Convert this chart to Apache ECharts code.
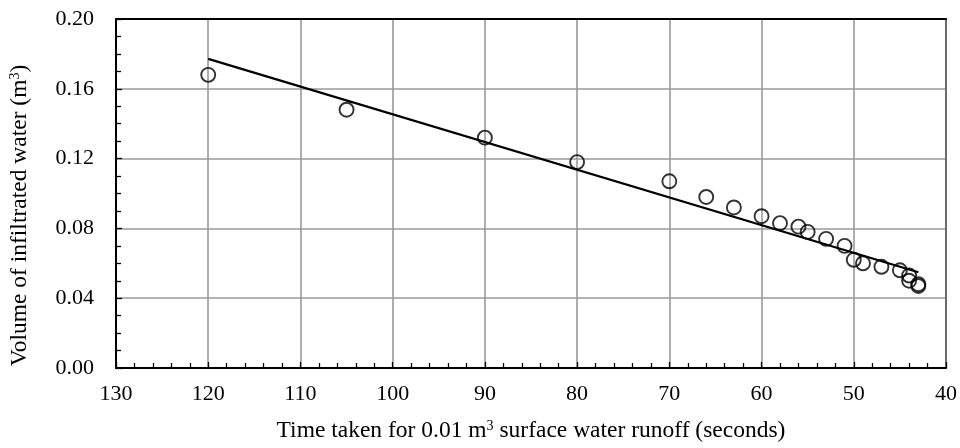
<!DOCTYPE html>
<html>
<head>
<meta charset="utf-8">
<script src="https://cdn.jsdelivr.net/npm/echarts@6/dist/echarts.min.js"></script>
<style>html,body{margin:0;padding:0;background:#fff}#c{width:960px;height:448px}</style>
</head>
<body>
<div id="c"></div>
<script>
// Data
const timeSeconds = [120, 105, 90, 80, 70, 66, 63, 60, 58, 56, 55, 53, 51, 50, 49, 47, 45, 44, 44, 43, 43];
const infiltratedVolume = [0.168, 0.148, 0.132, 0.118, 0.107, 0.098, 0.092, 0.087, 0.083, 0.081, 0.078, 0.074, 0.070, 0.062, 0.060, 0.058, 0.056, 0.053, 0.050, 0.048, 0.047];
const xTicks = [130, 120, 110, 100, 90, 80, 70, 60, 50, 40];
const yTicks = [0.00, 0.04, 0.08, 0.12, 0.16, 0.20];

// Linear trendline (least squares) from the data
const n = timeSeconds.length;
const mx = timeSeconds.reduce((a, b) => a + b, 0) / n;
const my = infiltratedVolume.reduce((a, b) => a + b, 0) / n;
let sxy = 0, sxx = 0;
for (let i = 0; i < n; i++) {
  sxy += (timeSeconds[i] - mx) * (infiltratedVolume[i] - my);
  sxx += (timeSeconds[i] - mx) * (timeSeconds[i] - mx);
}
const slope = sxy / sxx;
const intercept = my - slope * mx;
const xMin = Math.min(...timeSeconds), xMax = Math.max(...timeSeconds);
const trend = [[xMax, intercept + slope * xMax], [xMin, intercept + slope * xMin]];

const FONT = "'Liberation Serif', 'Times New Roman', serif";
const TICK = 22, TITLE = 23.5;
const rich = {
  n: { fontFamily: FONT, fontSize: TITLE, color: '#000' },
  s: { fontFamily: FONT, fontSize: 14, color: '#000', verticalAlign: 'top', padding: [0, 0, 9, 0] }
};
const chart = echarts.init(document.getElementById('c'));
chart.setOption({
  animation: false,
  textStyle: { fontFamily: FONT, color: '#000' },
  grid: { left: 116, right: 14, top: 19, bottom: 76, containLabel: false },
  xAxis: [{
    type: 'value', inverse: true,
    min: xTicks[xTicks.length - 1], max: xTicks[0], interval: 10,
    name: '{n|Time taken for 0.01 m}{s|3}{n| surface water runoff (seconds)}',
    nameLocation: 'middle', nameGap: 51,
    nameTextStyle: { rich: rich },
    axisLine: { show: true, lineStyle: { color: '#000', width: 2 } },
    axisTick: { show: true, inside: true, length: 6, lineStyle: { color: '#000', width: 1.3 } },
    minorTick: { show: true, splitNumber: 5, length: 5, lineStyle: { color: '#000', width: 1.3 } },
    axisLabel: { fontFamily: FONT, fontSize: TICK, color: '#000', margin: 15 },
    splitLine: { show: true, lineStyle: { color: '#9a9a9a', width: 1.6 } }
  }, {
    type: 'value', position: 'top', inverse: true,
    min: xTicks[xTicks.length - 1], max: xTicks[0],
    axisLine: { show: true, onZero: false, lineStyle: { color: '#000', width: 2 } },
    axisTick: { show: false }, axisLabel: { show: false }, splitLine: { show: false }
  }],
  yAxis: [{
    type: 'value', min: yTicks[0], max: yTicks[yTicks.length - 1], interval: 0.04,
    name: '{n|Volume of infiltrated water (m}{s|3}{n|)}',
    nameLocation: 'middle', nameGap: 84, nameRotate: 90,
    nameTextStyle: { rich: rich, padding: [0, 44, 0, 0] },
    axisLine: { show: true, lineStyle: { color: '#000', width: 2 } },
    axisTick: { show: true, inside: true, length: 6, lineStyle: { color: '#000', width: 1.3 } },
    minorTick: { show: true, splitNumber: 4, length: 5, lineStyle: { color: '#000', width: 1.3 } },
    axisLabel: { fontFamily: FONT, fontSize: TICK, color: '#000', margin: 22, formatter: v => v.toFixed(2) },
    splitLine: { show: true, lineStyle: { color: '#9a9a9a', width: 1.6 } }
  }, {
    type: 'value', position: 'right', min: yTicks[0], max: yTicks[yTicks.length - 1],
    axisLine: { show: true, onZero: false, lineStyle: { color: '#555', width: 1.5 } },
    axisTick: { show: false }, axisLabel: { show: false }, splitLine: { show: false }
  }],
  series: [{
    type: 'scatter',
    data: timeSeconds.map((t, i) => [t, infiltratedVolume[i]]),
    symbol: 'circle', symbolSize: 14,
    itemStyle: { color: 'rgba(0,0,0,0)', borderColor: '#000', borderWidth: 1.9 },
    z: 3
  }, {
    type: 'line', data: trend, showSymbol: false, symbol: 'none',
    lineStyle: { color: '#000', width: 2.2 }, z: 2
  }]
});
</script>
</body>
</html>
